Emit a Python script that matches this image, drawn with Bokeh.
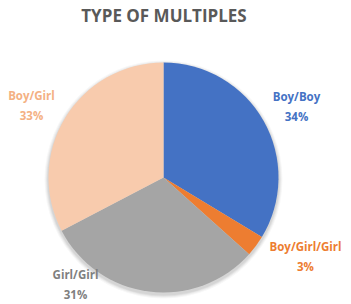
import math
from bokeh.plotting import figure
from bokeh.models import Range1d, Label
from bokeh.embed import file_html
from bokeh.resources import INLINE

# ---- data ----
categories = ["Boy/Boy", "Boy/Girl/Girl", "Girl/Girl", "Boy/Girl"]
percents = [34, 3, 31, 33]
slice_colors = ["#4472C4", "#ED7D31", "#A5A5A5", "#F8CBAD"]
label_colors = ["#4472C4", "#ED7D31", "#7F7F7F", "#F4B183"]
title_text = "TYPE OF MULTIPLES"

# ---- layout ----
W, H = 351, 304
cx, cy, r = 163, H - 177, 115
label_pos = [(296, H - 106), (305, H - 256), (75, H - 284), (31, H - 105)]

p = figure(width=W, height=H, x_range=Range1d(0, W), y_range=Range1d(0, H),
           output_backend="svg", toolbar_location=None, min_border=0,
           background_fill_color="white", border_fill_color="white")
p.axis.visible = False
p.grid.visible = False
p.outline_line_color = None

# soft shadow
for i, a in enumerate([0.05, 0.05, 0.04, 0.03]):
    p.circle(x=[cx], y=[cy - 2], radius=r + 1 + i, fill_color="#000000",
             fill_alpha=a, line_color=None)

total = sum(percents)
start = math.pi / 2
starts, ends = [], []
for v in percents:
    end = start - v / total * 2 * math.pi
    starts.append(start)
    ends.append(end)
    start = end

p.wedge(x=[cx] * 4, y=[cy] * 4, radius=r, start_angle=starts, end_angle=ends,
        direction="clock", fill_color=slice_colors, line_color=None)

for cat, pct, col, (lx, ly) in zip(categories, percents, label_colors, label_pos):
    p.add_layout(Label(x=lx, y=ly, text=f"{cat}\n{pct}%", text_color=col,
                       text_font="Open Sans", text_font_style="bold",
                       text_font_size="11.5px", text_align="center",
                       text_baseline="middle", text_line_height=1.35))

p.add_layout(Label(x=W / 2 - 12, y=H - 15, text=title_text, text_color="#595959",
                   text_font="Open Sans", text_font_style="bold",
                   text_font_size="17px", text_align="center",
                   text_baseline="middle"))

open("out.html", "w").write(file_html(p, INLINE))
